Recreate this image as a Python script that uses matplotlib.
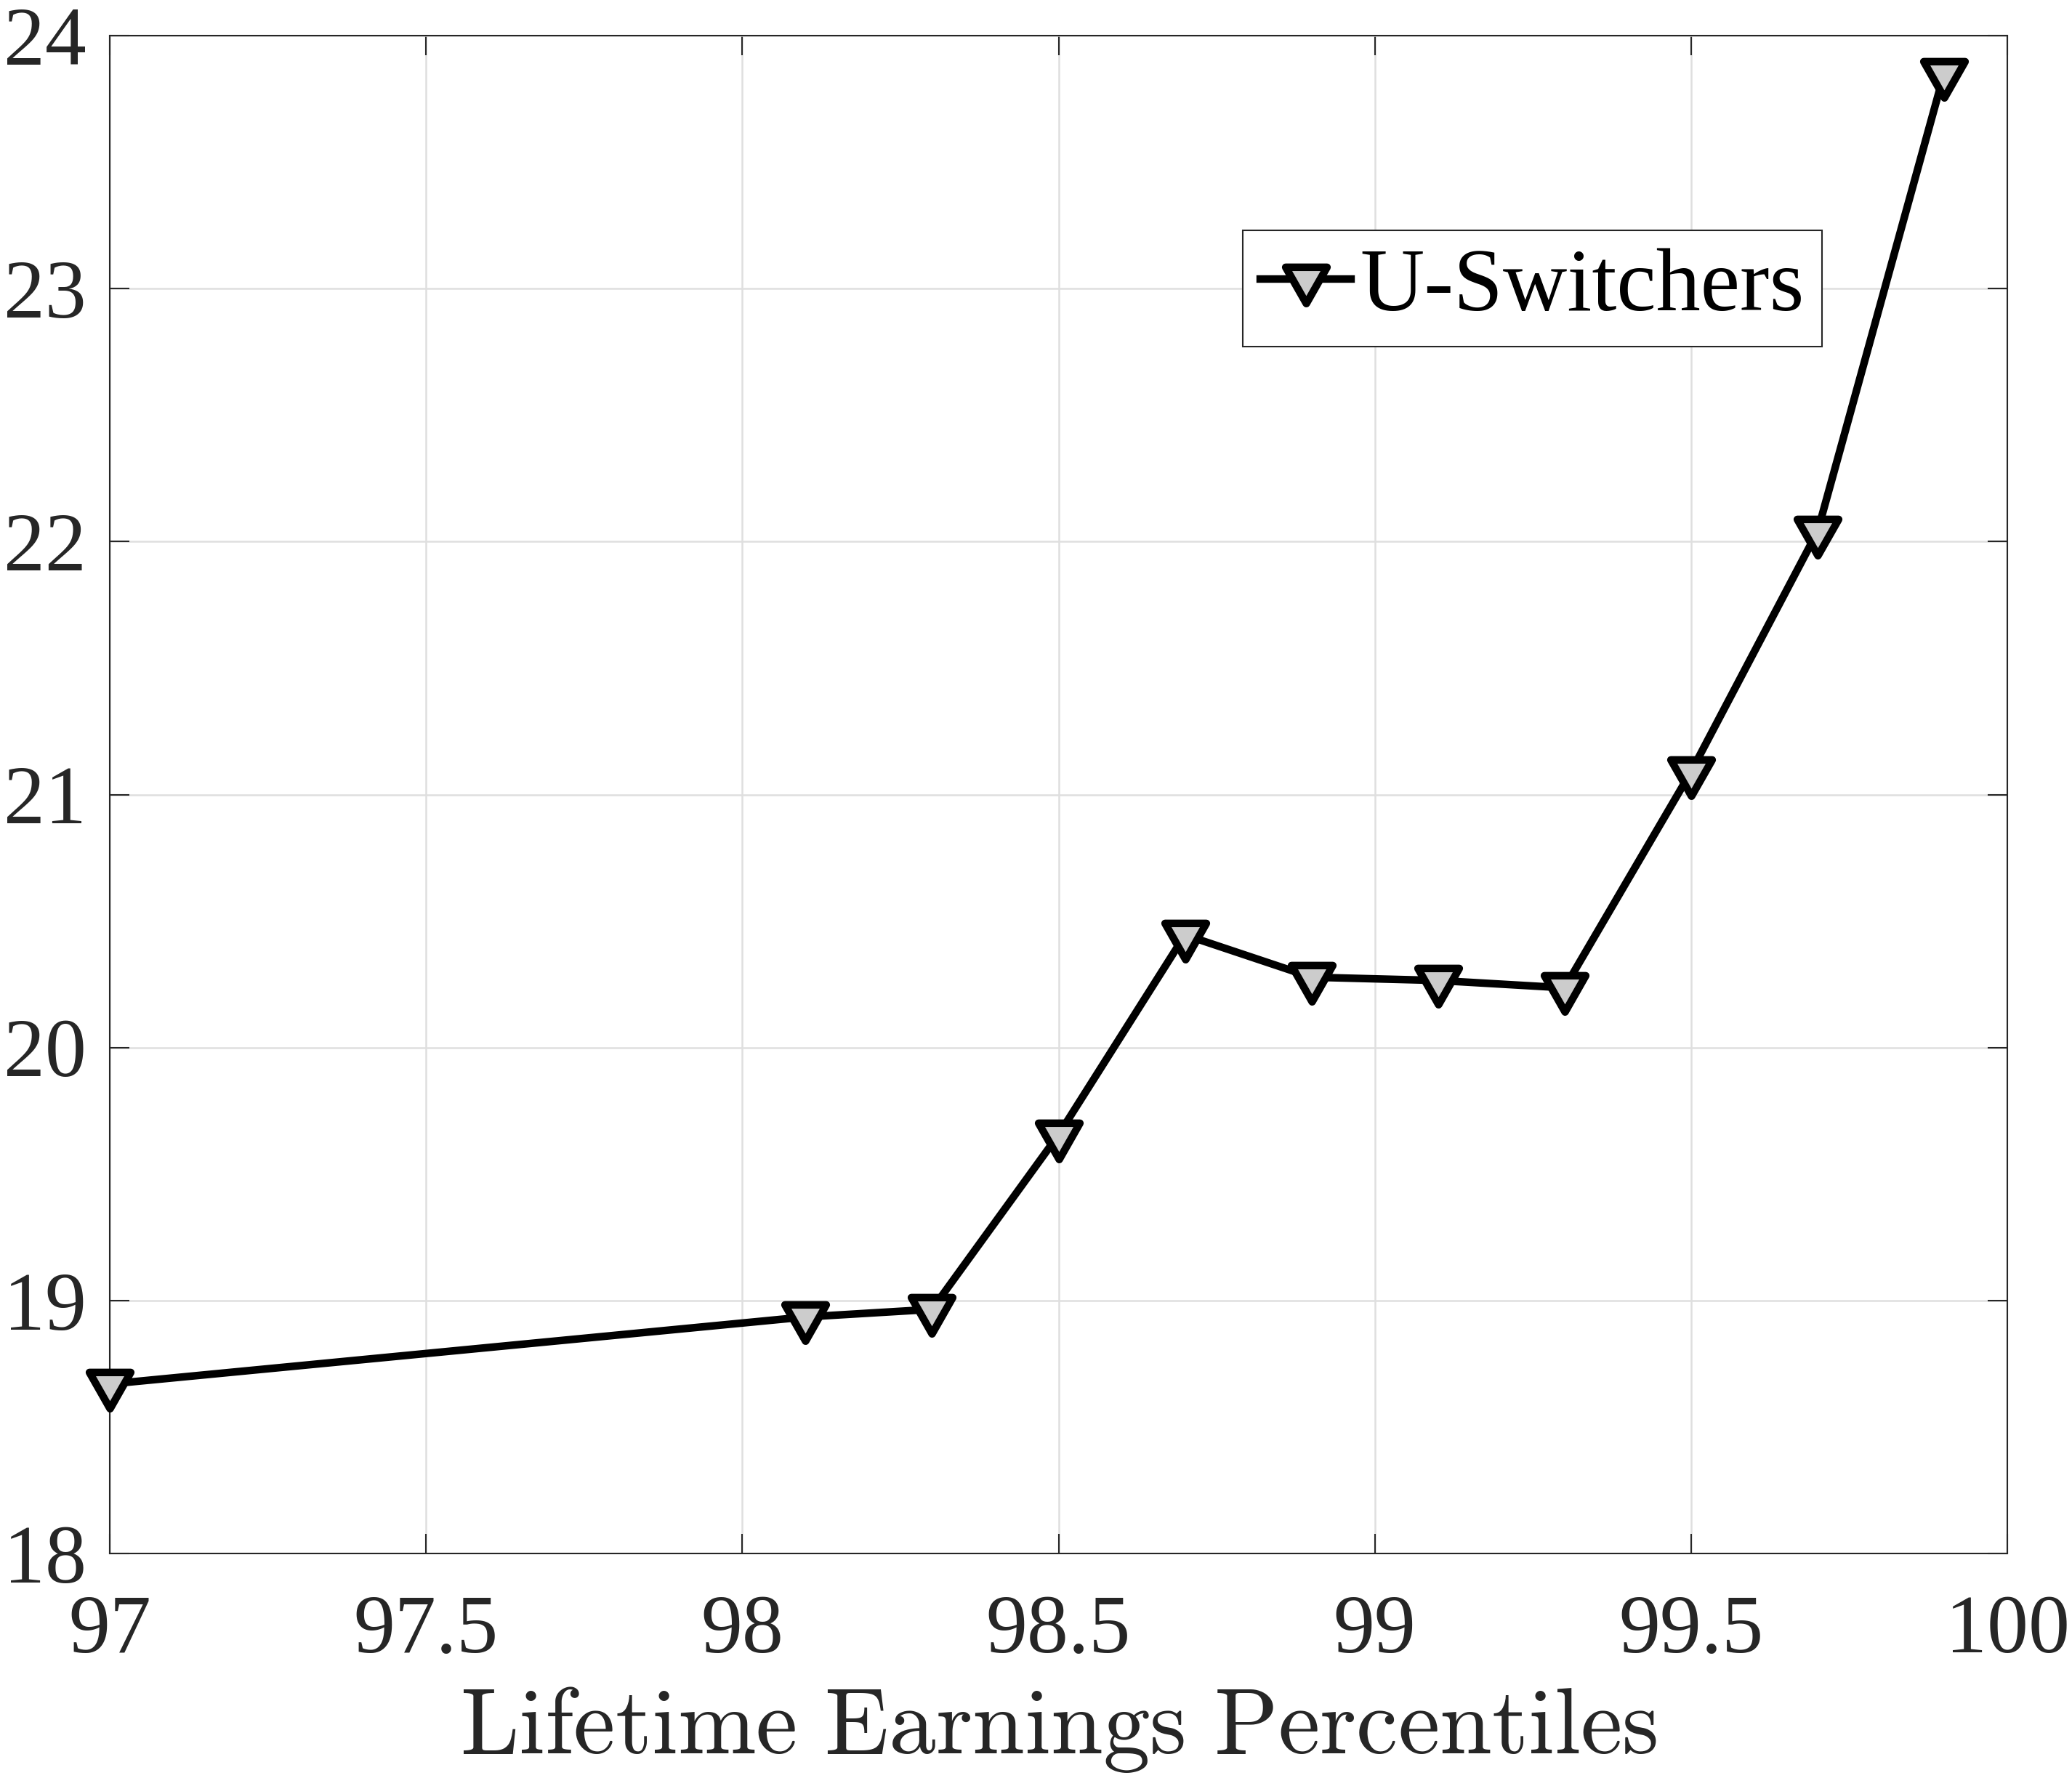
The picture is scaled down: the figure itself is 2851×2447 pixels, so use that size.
import matplotlib
matplotlib.use("Agg")
import matplotlib.pyplot as plt
from matplotlib.markers import MarkerStyle
from matplotlib.path import Path

# ---- data ----
percentiles = [97.0, 98.1, 98.3, 98.5, 98.7, 98.9, 99.1, 99.3, 99.5, 99.7, 99.9]
u_switchers = [18.67, 18.935, 18.965, 19.655, 20.445, 20.278, 20.265, 20.236, 21.09, 22.04, 23.85]
xticks = [97, 97.5, 98, 98.5, 99, 99.5, 100]
xticklabels = ["97", "97.5", "98", "98.5", "99", "99.5", "100"]
yticks = [18, 19, 20, 21, 22, 23, 24]
yticklabels = ["18", "19", "20", "21", "22", "23", "24"]
series_label = "U-Switchers"
xlabel = r"$\mathrm{Lifetime\ Earnings\ Percentiles}$"

plt.rcParams["mathtext.fontset"] = "cm"
plt.rcParams["font.family"] = ["Liberation Serif", "DejaVu Serif"]

W, H, DPI = 2851, 2447, 100
fig = plt.figure(figsize=(W / DPI, H / DPI), dpi=DPI)
L, R, T, B = 151, 2762, 49, 2138
ax = fig.add_axes([L / W, (H - B) / H, (R - L) / W, (B - T) / H])

dark = "#262626"

# downward triangle, origin at centroid, slightly wider than tall
tri = Path([(-29, 17), (29, 17), (0, -34), (-29, 17)], closed=True)
mk = MarkerStyle(tri, joinstyle="round")

ax.plot(percentiles, u_switchers, color="black", linewidth=7.5,
        marker=mk, markersize=48, markerfacecolor="#cccccc",
        markeredgecolor="black", markeredgewidth=7.5,
        solid_joinstyle="round", label=series_label, zorder=3, clip_on=False)

ax.set_xlim(97, 100)
ax.set_ylim(18, 24)
ax.set_xticks(xticks)
ax.set_xticklabels(xticklabels)
ax.set_yticks(yticks)
ax.set_yticklabels(yticklabels)

ax.grid(True, color="#dfdfdf", linewidth=1.8, zorder=0)
ax.set_axisbelow(True)

for s in ax.spines.values():
    s.set_color(dark)
    s.set_linewidth(1.5)

ax.tick_params(axis="both", which="both", direction="in", length=19.5,
               width=1.5, color=dark, labelcolor=dark, labelsize=82,
               top=True, right=True)
ax.tick_params(axis="x", pad=41)
ax.tick_params(axis="y", pad=23)

ax.set_xlabel(xlabel, fontsize=93, color=dark)
ax.xaxis.label.set_va("baseline")
ax.xaxis.set_label_coords(0.5, (B - 2413) / (B - T))

leg = ax.legend(loc="upper left", bbox_to_anchor=((1710 - L) / (R - L), (B - 317) / (B - T)),
                borderaxespad=0, fontsize=88, handlelength=1.02, handletextpad=0.1,
                borderpad=0.2, fancybox=False, framealpha=1, edgecolor=dark)
leg.get_frame().set_linewidth(1.5)

fig.savefig("out.png", dpi=DPI, facecolor="white")
